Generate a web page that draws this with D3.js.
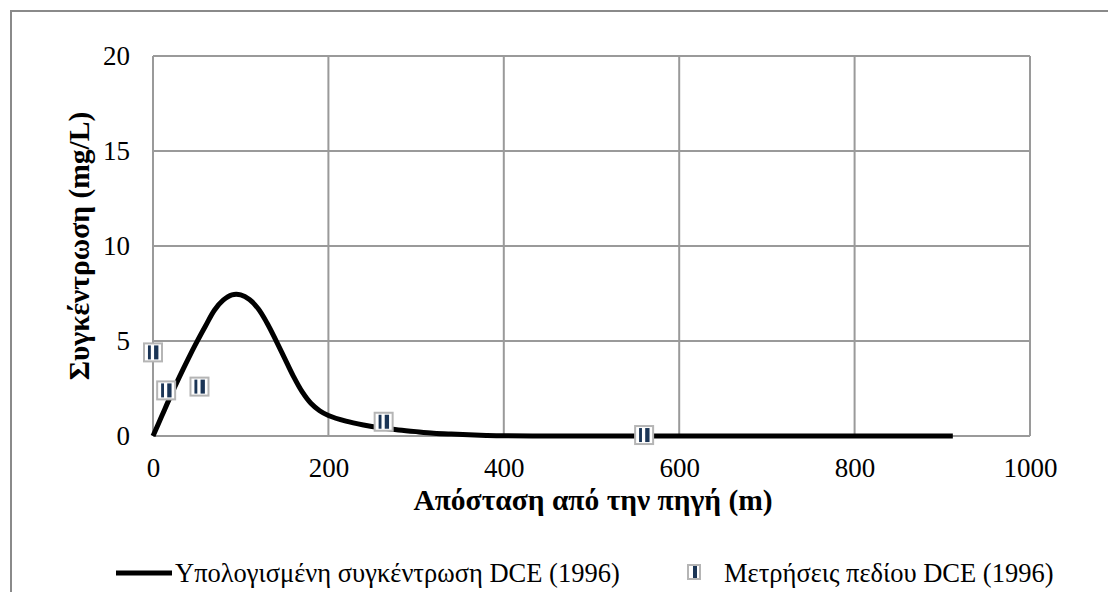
<!DOCTYPE html>
<html>
<head>
<meta charset="utf-8">
<script src="https://cdn.jsdelivr.net/npm/d3@7/dist/d3.min.js"></script>
</head>
<body style="margin:0;background:#fff">
<svg id="chart" width="1108" height="592" style="display:block"></svg>
<script>
// Computed concentration profile (distance in m, concentration in mg/L)
const curveDistance = [0, 10, 20, 30, 40, 50, 60, 70, 80, 90, 100, 110, 120, 130, 140, 150, 160, 170, 180, 190,
  200, 220, 240, 260, 280, 300, 320, 340, 360, 380, 400, 450, 500, 600, 700, 800, 912];
const curveConc = [0, 1.05, 2.1, 3.1, 4.05, 4.95, 5.8, 6.62, 7.15, 7.43, 7.43, 7.18, 6.7, 5.95, 5.05, 4.1, 3.15, 2.33, 1.72, 1.33,
  1.08, 0.78, 0.58, 0.43, 0.32, 0.23, 0.15, 0.1, 0.06, 0.03, 0.01, 0, 0, 0, 0, 0, 0];

// Field measurements
const fieldDistance = [0, 15, 53, 263, 560];
const fieldConc = [4.4, 2.4, 2.6, 0.75, 0.05];

const xTicks = [0, 200, 400, 600, 800, 1000];
const yTicks = [0, 5, 10, 15, 20];

const seriesNames = ["Υπολογισμένη συγκέντρωση DCE (1996)", "Μετρήσεις πεδίου DCE (1996)"];
const xTitle = "Απόσταση από την πηγή (m)";
const yTitle = "Συγκέντρωση (mg/L)";

const FONT = "Liberation Serif";

const svg = d3.select("#chart");
const plot = { left: 153, top: 56, right: 1030, bottom: 436 };
const gridColor = "#9a9a9a";
const navy = "#1b3556";

// outer chart frame
svg.append("path")
  .attr("d", "M11,592 L11,11 L1108,11")
  .attr("fill", "none").attr("stroke", "#8a8a8a").attr("stroke-width", 2);

const x = d3.scaleLinear().domain([0, 1000]).range([plot.left, plot.right]);
const y = d3.scaleLinear().domain([0, 20]).range([plot.bottom, plot.top]);

// gridlines
svg.append("g").selectAll("line").data(xTicks).join("line")
  .attr("x1", d => x(d)).attr("x2", d => x(d))
  .attr("y1", plot.top).attr("y2", plot.bottom)
  .attr("stroke", gridColor).attr("stroke-width", 2);
svg.append("g").selectAll("line").data(yTicks).join("line")
  .attr("x1", plot.left).attr("x2", plot.right)
  .attr("y1", d => y(d)).attr("y2", d => y(d))
  .attr("stroke", gridColor).attr("stroke-width", 2);

// axes (labels only; lines come from the grid)
const xAxis = svg.append("g")
  .attr("transform", `translate(0,${plot.bottom})`)
  .call(d3.axisBottom(x).tickValues(xTicks).tickSize(0).tickFormat(d3.format("d")));
xAxis.attr("font-family", FONT).attr("font-size", 27);
xAxis.select(".domain").remove();
xAxis.selectAll("text").attr("y", 41).attr("dy", 0).attr("fill", "#000");

const yAxis = svg.append("g")
  .attr("transform", `translate(${plot.left},0)`)
  .call(d3.axisLeft(y).tickValues(yTicks).tickSize(0).tickPadding(23).tickFormat(d3.format("d")));
yAxis.attr("font-family", FONT).attr("font-size", 27);
yAxis.select(".domain").remove();
yAxis.selectAll("text").attr("fill", "#000");

// axis titles
svg.append("text")
  .attr("x", 593).attr("y", 510)
  .attr("text-anchor", "middle")
  .attr("font-family", FONT).attr("font-size", 29.5).attr("font-weight", "bold").attr("fill", "#000")
  .text(xTitle);
svg.append("text")
  .attr("transform", `translate(89,${(plot.top + plot.bottom) / 2}) rotate(-90)`)
  .attr("text-anchor", "middle")
  .attr("font-family", FONT).attr("font-size", 29.5).attr("font-weight", "bold").attr("fill", "#000")
  .text(yTitle);

// computed curve
const line = d3.line()
  .x((d, i) => x(curveDistance[i]))
  .y(d => y(d))
  .curve(d3.curveCatmullRom.alpha(0.5));
svg.append("path")
  .datum(curveConc)
  .attr("d", line)
  .attr("fill", "none").attr("stroke", "#000").attr("stroke-width", 5)
  .attr("stroke-linejoin", "round");

// marker: grey square with two navy bars
function drawMarker(g, size) {
  const h = size / 2;
  g.append("rect").attr("x", -h).attr("y", -h).attr("width", size).attr("height", size)
    .attr("fill", "#fff").attr("stroke", "#b5b5b5").attr("stroke-width", 2);
  g.append("rect").attr("x", -h + size * 0.22).attr("y", -h + 2).attr("width", size * 0.16).attr("height", size - 4)
    .attr("fill", navy);
  g.append("rect").attr("x", size * 0.06).attr("y", -h + 2).attr("width", size * 0.24).attr("height", size - 4)
    .attr("fill", navy);
}

svg.append("g").selectAll("g").data(fieldConc).join("g")
  .attr("transform", (d, i) => `translate(${x(fieldDistance[i])},${y(d)})`)
  .each(function () { drawMarker(d3.select(this), 18); });

// legend
const legY = 573;
svg.append("line").attr("x1", 116).attr("x2", 172).attr("y1", legY).attr("y2", legY)
  .attr("stroke", "#000").attr("stroke-width", 5);
svg.append("text").attr("x", 175).attr("y", legY + 9)
  .attr("font-family", FONT).attr("font-size", 26.5).attr("fill", "#000").text(seriesNames[0]);
const lm = svg.append("g").attr("transform", `translate(694,${legY - 1})`);
lm.append("rect").attr("x", -6).attr("y", -7).attr("width", 12).attr("height", 14)
  .attr("fill", "#fff").attr("stroke", "#b5b5b5").attr("stroke-width", 2);
lm.append("rect").attr("x", -1).attr("y", -6).attr("width", 4).attr("height", 12).attr("fill", navy);
svg.append("text").attr("x", 724).attr("y", legY + 9)
  .attr("font-family", FONT).attr("font-size", 26.5).attr("fill", "#000").text(seriesNames[1]);
</script>
</body>
</html>
